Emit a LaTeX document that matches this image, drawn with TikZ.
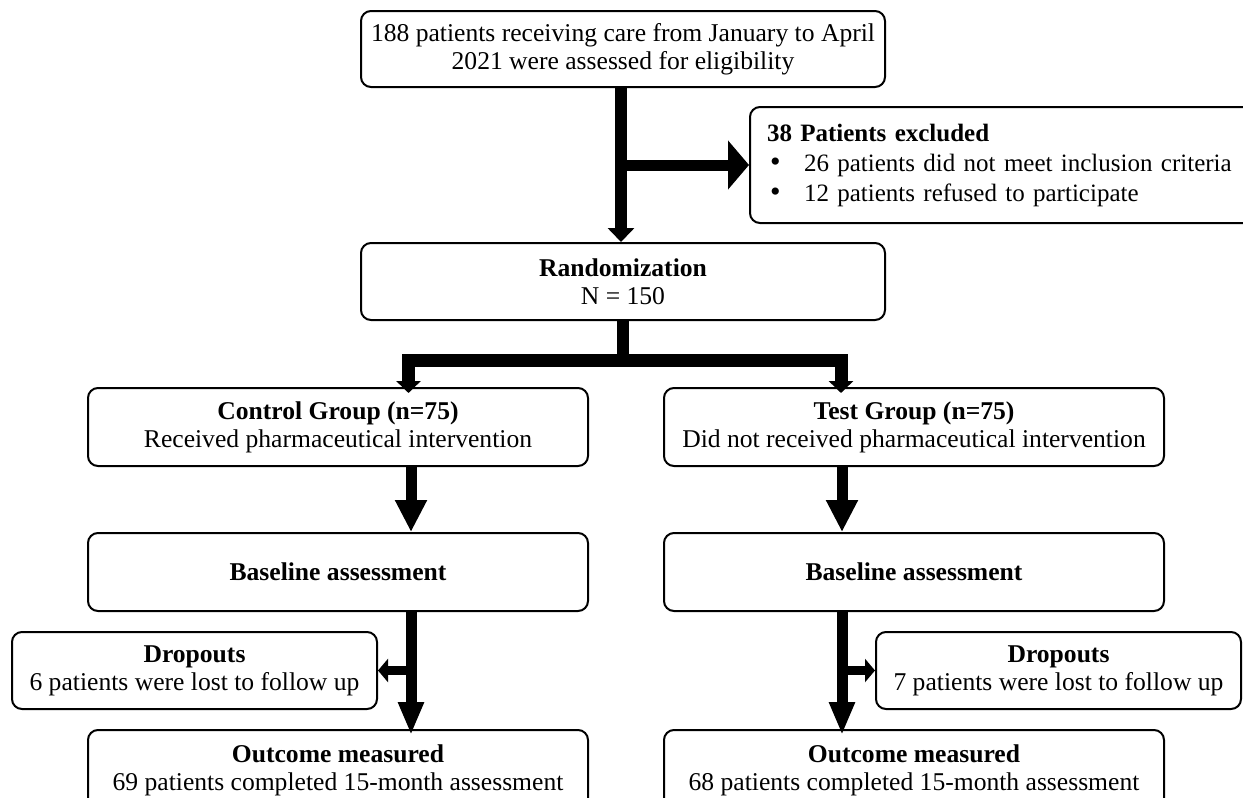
\documentclass[tikz,border=0pt]{standalone}
\usepackage{fontspec}
\setmainfont{Liberation Serif}
\usetikzlibrary{arrows.meta}
\newcommand{\bulletitem}{\makebox[18.5pt][l]{\hspace{1.5pt}{\fontsize{15}{14}\selectfont •}}}
\begin{document}
\begin{tikzpicture}[x=0.5pt,y=-0.5pt,
  box/.style={draw, line width=1pt, rounded corners=5pt, inner sep=0pt, align=center, anchor=north west, font=\fontsize{12.8}{14}\selectfont},
  shaft/.style={line width=6pt},
  thin shaft/.style={line width=4.5pt},
]
\useasboundingbox (0,0) rectangle (1243,798);
\fill[white] (0,0) rectangle (1243,798);

% boxes
\node[box, minimum width=262pt, minimum height=38pt] (top) at (360,10)
  {188 patients receiving care from January to April\\2021 were assessed for eligibility};
\node[box, minimum width=246.5pt, minimum height=58pt, text width=236pt, inner xsep=8.5pt, inner ysep=0pt, align=left, font=\fontsize{12.5}{15}\selectfont] (exc) at (749,106)
  {\textbf{38 Patients excluded}\\
   \bulletitem\mbox{26 patients did not meet inclusion criteria}\\
   \bulletitem\mbox{12 patients refused to participate}};
\node[box, minimum width=262pt, minimum height=38.5pt] (rand) at (360,242)
  {\textbf{Randomization}\\N = 150};
\node[box, minimum width=250pt, minimum height=39pt] (ctrl) at (87,387)
  {\textbf{Control Group (n=75)}\\Received pharmaceutical intervention};
\node[box, minimum width=250pt, minimum height=39pt] (test) at (663,387)
  {\textbf{Test Group (n=75)}\\Did not received pharmaceutical intervention};
\node[box, minimum width=250pt, minimum height=39pt] (baseL) at (87,532)
  {\textbf{Baseline assessment}};
\node[box, minimum width=250pt, minimum height=39pt] (baseR) at (663,532)
  {\textbf{Baseline assessment}};
\node[box, minimum width=182.5pt, minimum height=38.5pt] (dropL) at (11,631)
  {\textbf{Dropouts}\\6 patients were lost to follow up};
\node[box, minimum width=182.5pt, minimum height=38.5pt] (dropR) at (875,631)
  {\textbf{Dropouts}\\7 patients were lost to follow up};
\node[box, minimum width=250pt, minimum height=40pt] (outL) at (87,729)
  {\textbf{Outcome measured}\\69 patients completed 15-month assessment};
\node[box, minimum width=250pt, minimum height=40pt] (outR) at (663,729)
  {\textbf{Outcome measured}\\68 patients completed 15-month assessment};

% helper coordinates
\coordinate (xa) at (621,0);
\coordinate (xb) at (623,0);
\coordinate (bar) at (0,360.5);
\coordinate (xl) at (408.5,0);
\coordinate (xr) at (841,0);
\coordinate (xc) at (411,0);
\coordinate (xd) at (842,0);

% connectors
\draw[shaft, -{Triangle[width=13pt,length=7pt]}] (top.south -| xa) -- (rand.north -| xa);
\draw[line width=5.5pt, -{Triangle[width=24pt,length=10.5pt]}] (xa |- exc.west) -- (exc.west);
\draw[shaft] (rand.south -| xb) -- (xb |- bar);
\draw[line width=6.5pt, line join=miter, {Triangle[width=12pt,length=6pt]}-{Triangle[width=12pt,length=6pt]}]
  ([yshift=-3pt]ctrl.north -| xl) -- (xl |- bar) -- (xr |- bar) -- ([yshift=-3pt]test.north -| xr);

\draw[line width=5.5pt, -{Triangle[width=15pt,length=16pt]}] (ctrl.south -| xc) -- (baseL.north -| xc);
\draw[line width=5.5pt, -{Triangle[width=12pt,length=16.5pt]}] (baseL.south -| xc) -- ([yshift=-3pt]outL.north -| xc);
\draw[thin shaft, -{Triangle[width=11.5pt,length=5pt]}] (xc |- dropL.east) -- (dropL.east);

\draw[line width=5.5pt, -{Triangle[width=15pt,length=16pt]}] (test.south -| xd) -- (baseR.north -| xd);
\draw[line width=5.5pt, -{Triangle[width=12pt,length=16.5pt]}] (baseR.south -| xd) -- ([yshift=-3pt]outR.north -| xd);
\draw[thin shaft, -{Triangle[width=11.5pt,length=5pt]}] (xd |- dropR.west) -- (dropR.west);
\end{tikzpicture}
\end{document}
